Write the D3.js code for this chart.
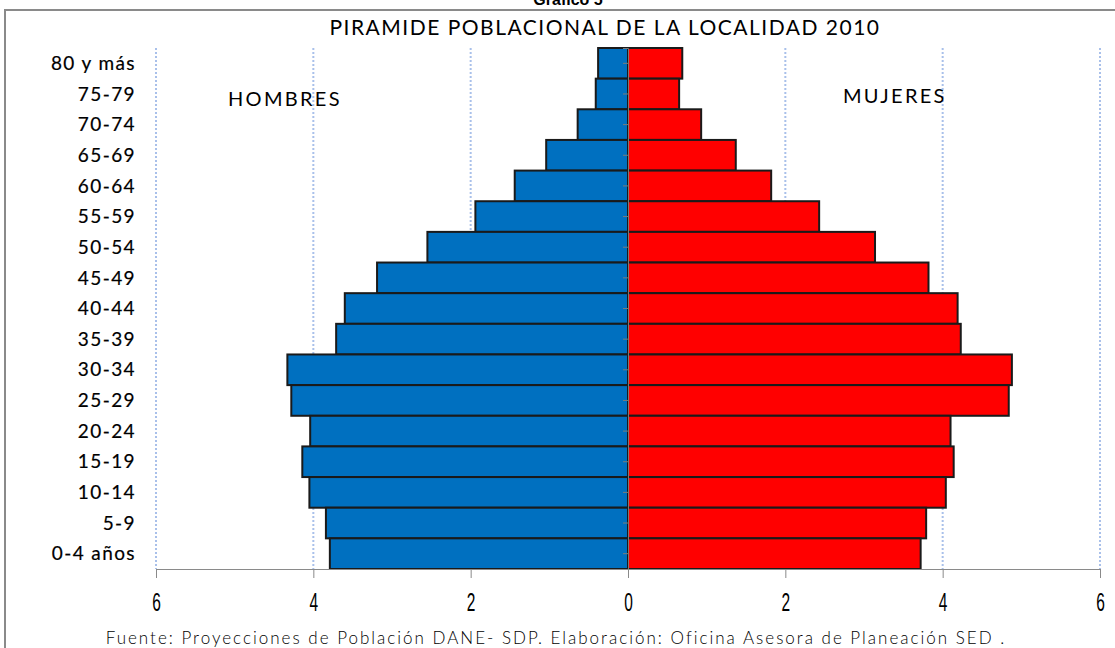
<!DOCTYPE html>
<html>
<head>
<meta charset="utf-8">
<script src="https://cdn.jsdelivr.net/npm/d3@7"></script>
<style>
  body { margin: 0; background: #fff; }
  svg { display: block; }
</style>
</head>
<body>
<script>
'use strict';

// age groups, top to bottom
const ageGroups = ["80 y más", "75-79", "70-74", "65-69", "60-64", "55-59", "50-54", "45-49",
  "40-44", "35-39", "30-34", "25-29", "20-24", "15-19", "10-14", "5-9", "0-4 años"];

// percentage of population per group
const hombres = [0.38, 0.41, 0.64, 1.04, 1.44, 1.94, 2.55, 3.19, 3.60, 3.71, 4.33, 4.28, 4.04, 4.14, 4.05, 3.84, 3.79];
const mujeres = [0.69, 0.65, 0.93, 1.37, 1.82, 2.43, 3.14, 3.82, 4.19, 4.23, 4.88, 4.84, 4.10, 4.14, 4.04, 3.79, 3.72];

const xTicks = [-6, -4, -2, 0, 2, 4, 6];

const svg = d3.select('body')
  .append('svg')
  .attr('width', 1115)
  .attr('height', 648);

// outer frame (cut off by the picture edge)
svg.append('rect')
  .attr('x', 5)
  .attr('y', 10)
  .attr('width', 1130)
  .attr('height', 660)
  .attr('fill', 'none')
  .attr('stroke', '#8a8a8a')
  .attr('stroke-width', 2);

// caption above the frame, mostly cut off like the original
svg.append('text')
  .attr('x', 568)
  .attr('y', 5)
  .attr('text-anchor', 'middle')
  .style('font-family', 'Liberation Sans, Arial, sans-serif')
  .style('font-weight', 'bold')
  .style('font-size', '16px')
  .text('Gráfico 5');

// scales
const x = d3.scaleLinear()
  .domain([-6, 6])
  .range([156, 1100]);

const y = d3.scaleBand()
  .domain(ageGroups)
  .range([48, 569])
  .padding(0);

// dotted gridlines
svg.append('g')
  .selectAll('line')
  .data(xTicks.filter(d => d !== 0))
  .enter()
  .append('line')
  .attr('x1', d => x(d))
  .attr('x2', d => x(d))
  .attr('y1', 48)
  .attr('y2', 569)
  .attr('stroke', '#a9c0ea')
  .attr('stroke-width', 2)
  .attr('stroke-dasharray', '2,2');

// bars for men (left side)
svg.append('g')
  .selectAll('rect')
  .data(ageGroups)
  .enter()
  .append('rect')
  .attr('x', (d, i) => x(-hombres[i]))
  .attr('y', d => y(d))
  .attr('width', (d, i) => x(0) - x(-hombres[i]))
  .attr('height', y.bandwidth())
  .attr('fill', '#0070C0')
  .attr('stroke', '#1a1a1a')
  .attr('stroke-width', 2);

// bars for women (right side)
svg.append('g')
  .selectAll('rect')
  .data(ageGroups)
  .enter()
  .append('rect')
  .attr('x', x(0))
  .attr('y', d => y(d))
  .attr('width', (d, i) => x(mujeres[i]) - x(0))
  .attr('height', y.bandwidth())
  .attr('fill', '#FF0000')
  .attr('stroke', '#1a1a1a')
  .attr('stroke-width', 2);

// central vertical axis
const yAxis = d3.axisLeft(y).tickSize(5).tickFormat('');
svg.append('g')
  .attr('transform', `translate(${x(0)}, 0)`)
  .call(yAxis)
  .call(g => g.selectAll('line, path').attr('stroke', '#7a7a7a'));

// category labels
svg.append('g')
  .selectAll('text')
  .data(ageGroups)
  .enter()
  .append('text')
  .attr('x', 136)
  .attr('y', d => y(d) + y.bandwidth() / 2)
  .attr('dy', '0.35em')
  .attr('text-anchor', 'end')
  .style('font-family', 'Lato, sans-serif')
  .style('font-size', '19px')
  .style('letter-spacing', '1.4px')
  .attr('stroke', '#000')
  .attr('stroke-width', 0.2)
  .text(d => d);

// bottom axis, narrow digits
const xAxis = d3.axisBottom(x)
  .tickValues(xTicks)
  .tickSize(9)
  .tickPadding(15)
  .tickFormat(d => Math.abs(d));
svg.append('g')
  .attr('transform', 'translate(0, 569)')
  .call(xAxis)
  .call(g => g.selectAll('line, path').attr('stroke', '#8a8a8a'))
  .call(g => g.selectAll('.tick text')
    .attr('transform', 'scale(0.62, 1)')
    .style('font-family', 'Liberation Sans, Arial, sans-serif')
    .style('font-size', '25px')
    .attr('fill', '#000'));

// title and labels
svg.append('text')
  .attr('x', 605)
  .attr('y', 35)
  .attr('text-anchor', 'middle')
  .style('font-family', 'Lato, sans-serif')
  .style('font-size', '21px')
  .style('letter-spacing', '1.5px')
  .text('PIRAMIDE POBLACIONAL DE LA LOCALIDAD 2010');

svg.append('text')
  .attr('x', 228)
  .attr('y', 106)
  .style('font-family', 'Lato, sans-serif')
  .style('font-size', '20px')
  .style('letter-spacing', '2.3px')
  .text('HOMBRES');

svg.append('text')
  .attr('x', 843)
  .attr('y', 103)
  .style('font-family', 'Lato, sans-serif')
  .style('font-size', '20px')
  .style('letter-spacing', '2.3px')
  .text('MUJERES');

svg.append('text')
  .attr('x', 556)
  .attr('y', 644)
  .attr('text-anchor', 'middle')
  .style('font-family', 'Lato, sans-serif')
  .style('font-size', '17px')
  .style('letter-spacing', '2px')
  .style('font-weight', '300')
  .text('Fuente: Proyecciones de Población DANE- SDP.  Elaboración: Oficina Asesora de Planeación SED .');
</script>
</body>
</html>
